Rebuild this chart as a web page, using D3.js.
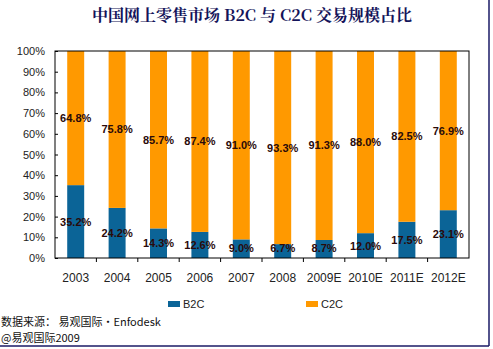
<!DOCTYPE html>
<html>
<head>
<meta charset="utf-8">
<script src="https://cdn.jsdelivr.net/npm/d3@7"></script>
<style>
  body { margin: 0; background: #fff; }
  svg { display: block; }
</style>
</head>
<body>
<div id="chart"></div>
<script>
const years = ['2003', '2004', '2005', '2006', '2007', '2008', '2009E', '2010E', '2011E', '2012E'];
const b2c = [35.2, 24.2, 14.3, 12.6, 9.0, 6.7, 8.7, 12.0, 17.5, 23.1];
const c2c = [64.8, 75.8, 85.7, 87.4, 91.0, 93.3, 91.3, 88.0, 82.5, 76.9];
const yTicks = [0, 10, 20, 30, 40, 50, 60, 70, 80, 90, 100];
const seriesNames = ['B2C', 'C2C'];
const colors = ['#0b6497', '#ff9900'];

const width = 493, height = 349;
const margin = { top: 51, right: 24, bottom: 91, left: 55 };
const plotW = width - margin.left - margin.right;
const plotH = height - margin.top - margin.bottom;

const svg = d3.select('#chart').append('svg')
  .attr('width', width)
  .attr('height', height);

// outer frame: right and bottom edges only
svg.append('line').attr('x1', 489).attr('x2', 489).attr('y1', 0).attr('y2', 346)
  .attr('stroke', '#1a1a66').attr('stroke-width', 1.5);
svg.append('line').attr('x1', 0).attr('x2', 489).attr('y1', 346).attr('y2', 346)
  .attr('stroke', '#1a1a66').attr('stroke-width', 1.5);

svg.append('text')
  .attr('x', 252).attr('y', 21)
  .attr('text-anchor', 'middle')
  .style('font-family', '"Noto Serif CJK SC", "Noto Sans CJK SC", serif')
  .style('font-size', '16px')
  .style('font-weight', 'bold')
  .style('fill', '#14145a')
  .text('中国网上零售市场 B2C 与 C2C 交易规模占比');

const g = svg.append('g').attr('transform', `translate(${margin.left},${margin.top})`);

const x = d3.scaleBand().domain(years).range([0, plotW]).padding(0);
const y = d3.scaleLinear().domain([0, 100]).range([plotH, 0]);

const rows = years.map((yr, i) => ({ year: yr, B2C: b2c[i], C2C: c2c[i] }));
const stacked = d3.stack().keys(seriesNames)(rows);

const barW = x.bandwidth() * 0.41;

g.selectAll('g.series')
  .data(stacked)
  .join('g')
  .attr('class', 'series')
  .attr('fill', (d, i) => colors[i])
  .selectAll('rect')
  .data(d => d)
  .join('rect')
  .attr('x', d => x(d.data.year) + (x.bandwidth() - barW) / 2)
  .attr('y', d => y(d[1]))
  .attr('width', barW)
  .attr('height', d => y(d[0]) - y(d[1]));

// value labels centred in each segment
g.selectAll('g.labels')
  .data(stacked)
  .join('g')
  .attr('class', 'labels')
  .selectAll('text')
  .data(d => d.map(p => ({ p, key: d.key })))
  .join('text')
  .attr('x', d => x(d.p.data.year) + x.bandwidth() / 2)
  .attr('y', d => {
    const mid = y((d.p[0] + d.p[1]) / 2) + 4;
    return Math.min(mid, plotH - 6);
  })
  .attr('text-anchor', 'middle')
  .style('font-family', 'Arial, "Liberation Sans", sans-serif')
  .style('font-size', '11px')
  .style('font-weight', 'bold')
  .style('fill', '#2a0a0a')
  .text(d => d3.format('.1f')(d.p.data[d.key]) + '%');

// plot frame
g.append('rect')
  .attr('width', plotW).attr('height', plotH)
  .attr('fill', 'none').attr('stroke', '#000').attr('stroke-width', 1);

// y axis with inward ticks
const yAxis = g.append('g')
  .call(d3.axisLeft(y).tickValues(yTicks).tickFormat(d => d + '%').tickSize(-3).tickPadding(10));
yAxis.select('.domain').remove();
yAxis.selectAll('text')
  .style('font-family', 'Arial, "Liberation Sans", sans-serif')
  .style('font-size', '11px')
  .style('fill', '#222');

// x axis ticks between categories
const xAxis = g.append('g').attr('transform', `translate(0,${plotH})`)
  .call(d3.axisBottom(x).tickSize(0).tickPadding(15));
xAxis.select('.domain').remove();
xAxis.selectAll('text')
  .style('font-family', 'Arial, "Liberation Sans", sans-serif')
  .style('font-size', '12px')
  .style('fill', '#222');
g.append('g')
  .selectAll('line')
  .data(years.slice(1))
  .join('line')
  .attr('x1', d => x(d)).attr('x2', d => x(d))
  .attr('y1', plotH).attr('y2', plotH + 4)
  .attr('stroke', '#000');

// legend
const legend = svg.append('g')
  .selectAll('g')
  .data(seriesNames)
  .join('g')
  .attr('transform', (d, i) => `translate(${[168, 306][i]},301)`);
legend.append('rect').attr('width', 12).attr('height', 6).attr('fill', (d, i) => colors[i]);
legend.append('text')
  .attr('x', 15).attr('y', 7)
  .style('font-family', 'Arial, "Liberation Sans", sans-serif')
  .style('font-size', '11px')
  .style('fill', '#222')
  .text(d => d);

svg.append('text')
  .attr('x', 1).attr('y', 326)
  .style('font-family', '"Noto Sans CJK SC", sans-serif')
  .style('font-size', '11px')
  .style('fill', '#111')
  .text('数据来源： 易观国际·Enfodesk');
svg.append('text')
  .attr('x', 1).attr('y', 342)
  .style('font-family', '"Noto Sans CJK SC", sans-serif')
  .style('font-size', '11px')
  .style('fill', '#111')
  .text('@易观国际2009');
</script>
</body>
</html>
